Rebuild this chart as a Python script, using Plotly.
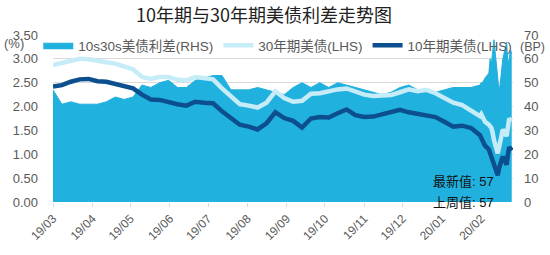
import pandas as pd
import plotly.graph_objects as go

# weekly dates, then daily observations around the March 2020 turmoil
weekly_dates = list(pd.date_range("2019-03-25", "2020-02-24", freq="7D"))
daily_dates = pd.to_datetime([
    "2020-02-25", "2020-02-26", "2020-02-27", "2020-02-28",
    "2020-03-02", "2020-03-03", "2020-03-04", "2020-03-05", "2020-03-06",
    "2020-03-09", "2020-03-10", "2020-03-11", "2020-03-12", "2020-03-13",
    "2020-03-16", "2020-03-17", "2020-03-18", "2020-03-19", "2020-03-20",
])
dates = weekly_dates + list(daily_dates)

# 10s30s spread (BP, RHS)
spread_bp = [
    47, 41, 42, 41, 41, 41, 42, 44, 43, 44,
    49, 48, 50, 51, 48, 48, 51, 52, 53, 53,
    47, 47, 47, 48, 47, 46, 45, 48, 50, 48,
    50, 48, 50, 49, 48, 47, 46, 45, 46, 48,
    49, 47, 47, 46, 47, 48, 48, 48, 49,
    50, 50, 51, 52,
    54, 60, 58, 63, 68,
    52, 46, 50, 56, 60,
    67, 58, 60, 64, 62,
]

# 30Y UST yield (%, LHS)
ust30 = [
    2.87, 2.92, 2.96, 3.00, 2.99, 2.95, 2.93, 2.90, 2.85, 2.78,
    2.62, 2.58, 2.62, 2.62, 2.56, 2.55, 2.62, 2.60, 2.57, 2.38,
    2.20, 2.05, 2.02, 1.98, 2.08, 2.32, 2.18, 2.10, 2.12, 2.27,
    2.28, 2.33, 2.36, 2.38, 2.32, 2.25, 2.22, 2.24, 2.24, 2.30,
    2.36, 2.32, 2.35, 2.28, 2.18, 2.08, 2.03, 1.92, 1.80,
    1.84, 1.80, 1.76, 1.68,
    1.62, 1.58, 1.55, 1.45, 1.30,
    1.02, 1.15, 1.28, 1.42, 1.52,
    1.38, 1.55, 1.75, 1.72, 1.70,
]

# 10Y UST yield (%, LHS)
ust10 = [
    2.42, 2.45, 2.52, 2.57, 2.58, 2.53, 2.52, 2.47, 2.43, 2.38,
    2.25, 2.15, 2.14, 2.09, 2.05, 2.02, 2.10, 2.08, 2.07, 1.90,
    1.75, 1.62, 1.58, 1.52, 1.65, 1.88, 1.76, 1.70, 1.56, 1.75,
    1.78, 1.77, 1.86, 1.94, 1.82, 1.78, 1.79, 1.84, 1.88, 1.93,
    1.88, 1.84, 1.82, 1.78, 1.68, 1.58, 1.60, 1.55, 1.40,
    1.35, 1.32, 1.28, 1.18,
    1.10, 1.02, 1.00, 0.92, 0.78,
    0.56, 0.70, 0.82, 0.88, 0.95,
    0.78, 1.00, 1.15, 1.12, 1.08,
]

tick_dates = list(pd.date_range("2019-03-01", "2020-02-01", freq="MS") + pd.Timedelta(days=24))
tick_text = ["19/03", "19/04", "19/05", "19/06", "19/07", "19/08", "19/09",
             "19/10", "19/11", "19/12", "20/01", "20/02"]

latest_label = "最新值: 57"
prev_label = "上周值: 57"

FONT = "Arial, Liberation Sans, Noto Sans CJK SC, sans-serif"
GREY = "#595959"

fig = go.Figure()
fig.add_trace(go.Scatter(
    x=dates, y=spread_bp, name="10s30s美债利差(RHS)", mode="lines",
    line=dict(color="#21b1df", width=1), fill="tozeroy", fillcolor="#21b1df",
    yaxis="y",
))
fig.add_trace(go.Scatter(
    x=dates, y=ust30, name="30年期美债(LHS)", mode="lines",
    line=dict(color="#c6ecf8", width=4.5), yaxis="y2",
))
fig.add_trace(go.Scatter(
    x=dates, y=ust10, name="10年期美债(LHS)", mode="lines",
    line=dict(color="#0b4f8e", width=4.5), yaxis="y2",
))

fig.update_layout(
    width=550, height=255,
    margin=dict(l=53, r=33, t=35, b=52),
    paper_bgcolor="white", plot_bgcolor="white",
    font=dict(family=FONT, color=GREY, size=13),
    title=dict(text="10年期与30年期美债利差走势图", x=0.48, xanchor="center",
               y=0.94, yanchor="middle",
               font=dict(size=18, color="#222222", family="Noto Sans CJK SC, sans-serif")),
    showlegend=True,
    legend=dict(orientation="h", x=-0.032, xanchor="left", y=1.03, yanchor="top",
                bgcolor="rgba(0,0,0,0)", font=dict(size=13.5, color=GREY),
                itemwidth=30, tracegroupgap=0),
    xaxis=dict(type="date", range=["2019-03-25", "2020-03-21"],
               tickvals=tick_dates, ticktext=tick_text, tickangle=-45,
               ticks="outside", ticklen=4, tickcolor="#d9d9d9",
               showgrid=False, showline=False, zeroline=False,
               tickfont=dict(size=12, color=GREY)),
    yaxis=dict(side="right", range=[0, 70], dtick=10, showgrid=True,
               gridcolor="#d9d9d9", zeroline=False, ticks="",
               ticklabelstandoff=10, tickfont=dict(size=13, color=GREY)),
    yaxis2=dict(side="left", overlaying="y", range=[0, 3.5], dtick=0.5,
                tickformat=".2f", showgrid=False, zeroline=False, ticks="",
                ticklabelstandoff=14, tickfont=dict(size=13, color=GREY)),
)

fig.add_annotation(text="(%)", xref="paper", yref="paper", x=-0.085, y=0.95,
                   xanchor="center", yanchor="middle", showarrow=False,
                   font=dict(size=13, color=GREY))
fig.add_annotation(text="(BP)", xref="paper", yref="paper", x=1.042, y=0.93,
                   xanchor="center", yanchor="middle", showarrow=False,
                   font=dict(size=12.5, color=GREY))
fig.add_annotation(text=latest_label, xref="paper", yref="paper", x=0.892, y=0.12,
                   xanchor="center", yanchor="middle", showarrow=False,
                   font=dict(size=13, color="#111111"))
fig.add_annotation(text=prev_label, xref="paper", yref="paper", x=0.892, y=0.0,
                   xanchor="center", yanchor="middle", showarrow=False,
                   font=dict(size=13, color="#111111"))

fig.write_html("out.html")
